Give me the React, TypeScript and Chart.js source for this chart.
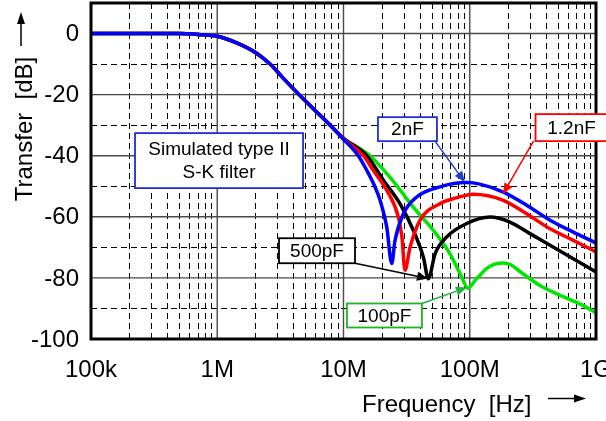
import React, { useEffect, useRef } from "react";
import { Chart, registerables } from "chart.js";

Chart.register(...registerables);

// ---- data (frequency in Hz, transfer in dB) ----
const freqCommon = [1e5, 5e5, 7.1e5, 1.0e6, 1.41e6, 2.02e6, 2.62e6, 3.4e6, 4.45e6, 5.9e6, 7.85e6];
const dbCommon = [0, 0, -0.3, -0.9, -3.0, -6.3, -10, -15, -20, -25, -30];

const freq2nF = [10e6, 13.1e6, 15.3e6, 17.5e6, 19.5e6, 22e6, 24.1e6, 25.6e6, 29.8e6, 38e6, 58e6, 94.6e6, 120e6, 184.5e6, 282.5e6, 432.5e6, 661e6, 1e9];
const db2nF = [-34.6, -40, -44.8, -49.6, -54.6, -63.3, -75.3, -67.7, -59, -53.5, -50.2, -48.8, -49.3, -51.9, -56.2, -61.1, -65, -68.6];

const freq1n2F = [10e6, 14.4e6, 17.2e6, 22e6, 27.2e6, 29e6, 30.7e6, 33.7e6, 40.4e6, 58e6, 78e6, 107e6, 184.5e6, 282e6, 432.5e6, 661e6, 1e9];
const db1n2F = [-34.4, -40, -44.8, -51.3, -60.1, -66.5, -77.5, -69.9, -61.1, -55.7, -53.8, -52.6, -54.6, -59, -63.9, -67.7, -71.5];

const freq500pF = [10e6, 15.3e6, 20.7e6, 28e6, 35.7e6, 42.9e6, 47e6, 53.1e6, 65.6e6, 94.6e6, 144.5e6, 208e6, 300e6, 432.5e6, 661e6, 1e9];
const db500pF = [-34.3, -40, -48, -55.7, -64.4, -73.2, -80.3, -72.1, -66.6, -62.2, -60.1, -61.7, -65.5, -69.3, -73.7, -78.1];

const freq100pF = [10e6, 16.2e6, 23.3e6, 35.7e6, 51.4e6, 69.8e6, 83.8e6, 97.3e6, 104e6, 112e6, 120e6, 132e6, 146e6, 165e6, 182e6, 210e6, 250e6, 360e6, 519e6, 746e6, 1e9];
const db100pF = [-34.2, -40, -47, -56.8, -64.4, -72.1, -78.6, -83.4, -82.2, -80.5, -79.2, -77.4, -76.1, -75.3, -75.1, -75.6, -77.9, -82.5, -85.7, -88.5, -91.4];

const xTickValues = [1e5, 1e6, 1e7, 1e8, 1e9];
const xTickLabels = ["100k", "1M", "10M", "100M", "1G"];
const yTickValues = [0, -20, -40, -60, -80, -100];
const yMinorValues = [-10, -30, -50, -70, -90];
const minorMultipliers = [2, 3, 4, 5, 6, 7, 8, 9];

const seriesNames = ["2nF", "1.2nF", "500pF", "100pF"];

// annotation anchors in data coordinates (frequency, dB)
const noteTexts = [["Simulated type II", "S-K filter"], ["2nF"], ["1.2nF"], ["500pF"], ["100pF"]];
const noteFreq = [1.033e6, 3.21e7, 6.4e8, 6.17e6, 2.11e7];
const noteDb = [-41.6, -31.3, -30.8, -71.1, -92.3];
const arrowHeadFreq = [null, 9.16e7, 1.83e8, 4.67e7, 9.5e7];
const arrowHeadDb = [null, -48.7, -52.6, -80.2, -83.1];

const FONT = "Arial, 'Liberation Sans', Helvetica, sans-serif";

function pts(f: number[], d: number[]) {
  return f.map((v, i) => ({ x: v, y: d[i] }));
}

function drawArrow(ctx: CanvasRenderingContext2D, x1: number, y1: number, x2: number, y2: number, color: string, w: number, headLen: number, headHalf: number) {
  const ang = Math.atan2(y2 - y1, x2 - x1);
  const bx = x2 - headLen * Math.cos(ang);
  const by = y2 - headLen * Math.sin(ang);
  ctx.save();
  ctx.strokeStyle = color;
  ctx.fillStyle = color;
  ctx.lineWidth = w;
  ctx.setLineDash([]);
  ctx.beginPath();
  ctx.moveTo(x1, y1);
  ctx.lineTo(bx, by);
  ctx.stroke();
  ctx.beginPath();
  ctx.moveTo(x2, y2);
  ctx.lineTo(bx + headHalf * Math.sin(ang), by - headHalf * Math.cos(ang));
  ctx.lineTo(bx - headHalf * Math.sin(ang), by + headHalf * Math.cos(ang));
  ctx.closePath();
  ctx.fill();
  ctx.restore();
}

const notesPlugin = {
  id: "customDecor",
  beforeDatasetsDraw(chart: any) {
    const { ctx, chartArea: a, scales } = chart;
    const x = scales.x;
    const y = scales.y;
    ctx.save();
    // minor grid (dashed)
    ctx.strokeStyle = "#000";
    ctx.lineWidth = 1;
    ctx.setLineDash([6, 4]);
    for (let d = 5; d < 9; d++) {
      for (const m of minorMultipliers) {
        const px = Math.round(x.getPixelForValue(m * Math.pow(10, d))) + 0.5;
        ctx.beginPath();
        ctx.moveTo(px, a.top);
        ctx.lineTo(px, a.bottom);
        ctx.stroke();
      }
    }
    for (const v of yMinorValues) {
      const py = Math.round(y.getPixelForValue(v)) + 0.5;
      ctx.beginPath();
      ctx.moveTo(a.left, py);
      ctx.lineTo(a.right, py);
      ctx.stroke();
    }
    // major grid (solid)
    ctx.setLineDash([]);
    ctx.strokeStyle = "#4a4a4a";
    ctx.lineWidth = 1.4;
    for (const v of xTickValues) {
      const px = x.getPixelForValue(v);
      ctx.beginPath();
      ctx.moveTo(px, a.top);
      ctx.lineTo(px, a.bottom);
      ctx.stroke();
    }
    for (const v of yTickValues) {
      const py = y.getPixelForValue(v);
      ctx.beginPath();
      ctx.moveTo(a.left, py);
      ctx.lineTo(a.right, py);
      ctx.stroke();
    }
    ctx.restore();
  },
  afterDatasetsDraw(chart: any) {
    const { ctx, chartArea: a, scales } = chart;
    const x = scales.x;
    const y = scales.y;
    ctx.save();
    // frame
    ctx.strokeStyle = "#000";
    ctx.lineWidth = 3;
    ctx.strokeRect(a.left, a.top, a.right - a.left, a.bottom - a.top);

    // tick labels
    ctx.fillStyle = "#000";
    ctx.font = `24px ${FONT}`;
    ctx.textAlign = "right";
    ctx.textBaseline = "middle";
    for (const v of yTickValues) {
      ctx.fillText(String(v), a.left - 12, y.getPixelForValue(v) + 1);
    }
    ctx.textAlign = "center";
    ctx.textBaseline = "alphabetic";
    xTickValues.forEach((v, i) => {
      ctx.fillText(xTickLabels[i], x.getPixelForValue(v), a.bottom + 38);
    });

    // axis titles
    ctx.textAlign = "left";
    ctx.fillText("Frequency  [Hz]", 362, 412);
    drawArrow(ctx, 548, 398.5, 586, 398.5, "#000", 1.5, 12, 4);
    ctx.save();
    ctx.translate(32, 129);
    ctx.rotate(-Math.PI / 2);
    ctx.textAlign = "center";
    ctx.textBaseline = "alphabetic";
    ctx.fillText("Transfer  [dB]", 0, 0);
    ctx.restore();
    drawArrow(ctx, 21, 46, 21, 12, "#000", 1.5, 12, 4);

    // annotations
    const boxW = [168, 59, 72, 76, 75];
    const boxH = [55, 24, 27, 25, 24];
    const colors = ["#1f2fd0", "#1f2fd0", "#ff0000", "#000000", "#22b422"];
    const arrowColors = ["#1f2fd0", "#1f3fc8", "#ff0000", "#000000", "#22b43c"];
    const tailDx = [0, 27.5, -38, 38, 37.5];
    const tailDy = [0, 12, 13.5, 12.5, -12];
    noteTexts.forEach((lines, i) => {
      const cx = x.getPixelForValue(noteFreq[i]);
      const cy = y.getPixelForValue(noteDb[i]);
      const hf = arrowHeadFreq[i];
      const hd = arrowHeadDb[i];
      if (hf !== null && hd !== null) {
        drawArrow(ctx, cx + tailDx[i], cy + tailDy[i], x.getPixelForValue(hf), y.getPixelForValue(hd), arrowColors[i], 1.5, 11, 4.5);
      }
      ctx.fillStyle = "#fff";
      ctx.fillRect(cx - boxW[i] / 2, cy - boxH[i] / 2, boxW[i], boxH[i]);
      ctx.strokeStyle = colors[i];
      ctx.lineWidth = 1.8;
      ctx.strokeRect(cx - boxW[i] / 2, cy - boxH[i] / 2, boxW[i], boxH[i]);
      ctx.fillStyle = "#000";
      ctx.font = `19px ${FONT}`;
      ctx.textAlign = "center";
      ctx.textBaseline = "middle";
      const lh = 23;
      lines.forEach((t, k) => {
        ctx.fillText(t, cx, cy + (k - (lines.length - 1) / 2) * lh + 1);
      });
    });
    ctx.restore();
  },
};

export default function App() {
  const ref = useRef<HTMLCanvasElement | null>(null);
  useEffect(() => {
    if (!ref.current) return;
    const chart = new Chart(ref.current, {
      type: "line",
      data: {
        datasets: [
          { label: seriesNames[0], data: pts([...freqCommon, ...freq2nF], [...dbCommon, ...db2nF]), borderColor: "#0000ff" },
          { label: seriesNames[1], data: pts([...freqCommon, ...freq1n2F], [...dbCommon, ...db1n2F]), borderColor: "#ff0000" },
          { label: seriesNames[2], data: pts([...freqCommon, ...freq500pF], [...dbCommon, ...db500pF]), borderColor: "#000000" },
          { label: seriesNames[3], data: pts([...freqCommon, ...freq100pF], [...dbCommon, ...db100pF]), borderColor: "#00e600" },
        ],
      },
      options: {
        responsive: false,
        animation: false,
        layout: { padding: { left: 91, top: 3, right: 10, bottom: 82 } },
        plugins: { legend: { display: false }, tooltip: { enabled: false } },
        elements: {
          point: { radius: 0 },
          line: { borderWidth: 3.5, cubicInterpolationMode: "monotone", fill: false },
        },
        scales: {
          x: { type: "logarithmic", min: 1e5, max: 1e9, display: false },
          y: { type: "linear", min: -100, max: 10, display: false },
        },
      },
      plugins: [notesPlugin],
    } as any);
    return () => chart.destroy();
  }, []);
  return (
    <div style={{ position: "fixed", left: 0, top: 0, width: 606, height: 421, background: "#fff" }}>
      <canvas ref={ref} width={606} height={421} style={{ display: "block" }} />
    </div>
  );
}
